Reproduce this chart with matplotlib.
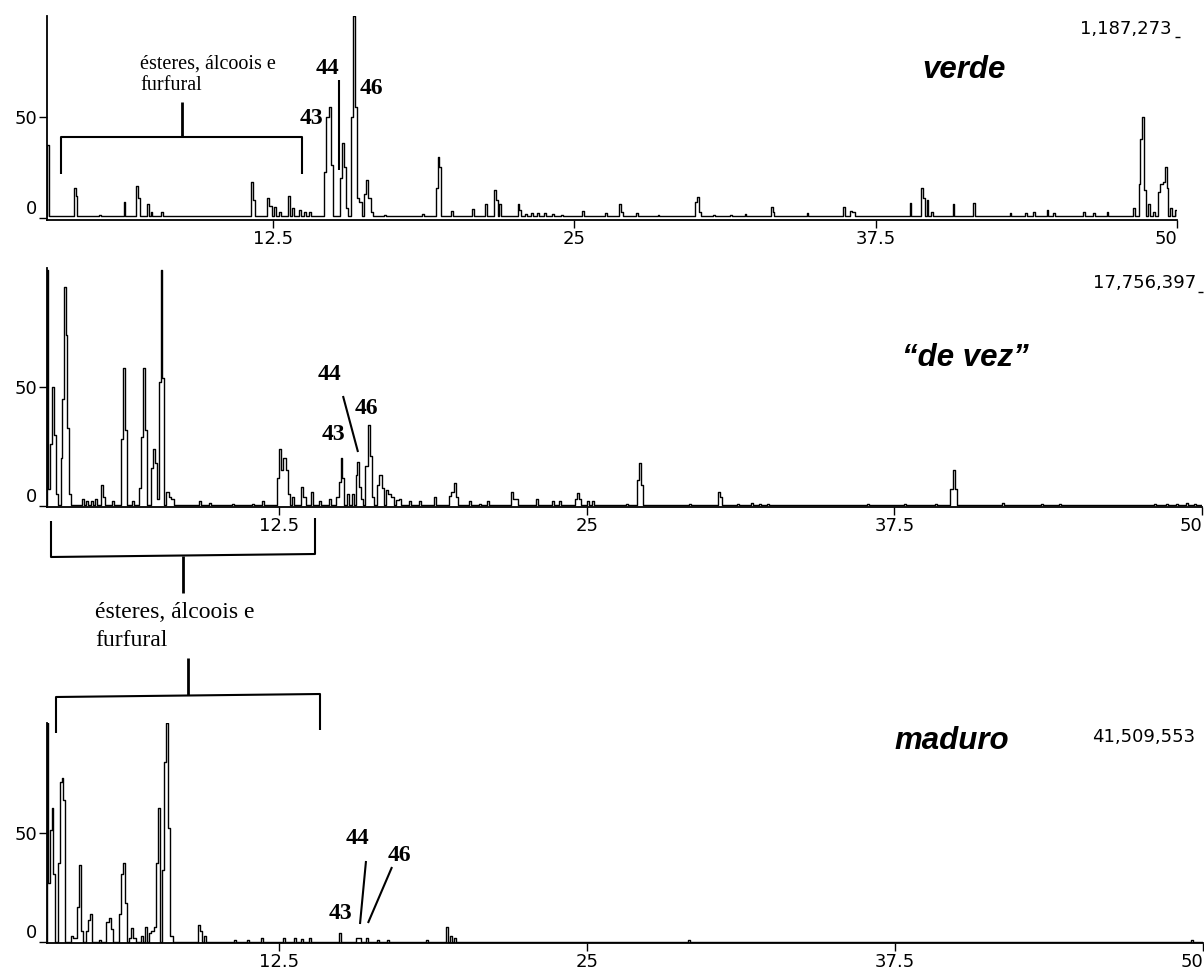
import matplotlib
matplotlib.use("Agg")
import matplotlib.pyplot as plt
from matplotlib.lines import Line2D

# ---------------- data (retention time in min, relative abundance %) ----------------
verde_rt = [3.16, 4.28, 4.36, 5.32, 6.35, 6.85, 6.94, 7.31, 7.47, 7.89,
            11.63, 11.71, 12.29, 12.42, 12.58, 12.79, 13.16, 13.33, 13.62, 13.83, 14.04,
            14.66, 14.78, 14.87, 14.95, 15.32, 15.41, 15.49, 15.57,
            15.78, 15.86, 15.95, 16.03, 16.15, 16.32, 16.40, 16.49, 16.61, 17.15,
            18.73, 19.30, 19.36, 19.43, 19.92, 20.79, 21.35, 21.72, 21.79, 21.93,
            22.69, 22.76, 23.00, 23.24, 23.50, 23.80, 24.13, 24.49, 25.35, 26.33,
            26.88, 26.98, 27.60, 28.50, 30.03, 30.12, 30.23, 30.80, 31.50, 32.10,
            33.21, 33.27, 34.68, 36.18, 36.46, 36.59, 38.95, 39.40, 39.50, 39.65, 39.85,
            40.73, 41.58, 43.10, 43.73, 44.06, 44.63, 44.90, 46.15, 46.57, 47.12,
            48.21, 48.44, 48.51, 48.58, 48.67, 48.85, 49.06,
            49.26, 49.36, 49.47, 49.54, 49.61, 49.75, 49.96]
verde_pct = [36, 15, 11, 1.5, 8, 16, 10, 7, 3, 3,
             18, 9, 10, 6, 5.5, 3, 11, 5, 4, 3, 3,
             23, 50, 55, 26, 20, 37, 25, 5,
             50, 100, 55, 10, 8, 12, 19, 10, 3, 1.5,
             2, 15, 30, 25, 3.5, 4.5, 7, 14, 9, 7,
             7, 4, 2, 2.5, 2.5, 2.5, 2, 1.5, 3.5, 2.5,
             7, 3, 2.5, 1.5, 8, 10.5, 3, 1.5, 1.5, 2,
             5.5, 3, 2.5, 5.5, 3.5, 3, 7.4, 15, 10, 9, 3,
             7, 7.4, 2.5, 2.5, 3, 4, 2.5, 3, 2.5, 3,
             5, 17, 39, 50, 14, 7, 3,
             13, 17, 18, 25, 15, 5, 4]

devez_rt = [3.08, 3.13, 3.25, 3.29, 3.37, 3.46, 3.66, 3.70, 3.78, 3.86, 3.90, 3.98,
            4.51, 4.67, 4.88, 5.04, 5.28, 5.37, 5.73, 6.10, 6.18, 6.26, 6.54, 6.82,
            6.94, 6.99, 7.07, 7.32, 7.40, 7.48, 7.60, 7.64, 7.72, 7.76, 7.93, 8.05, 8.17,
            9.27, 9.67, 10.61, 11.42, 11.83, 12.44, 12.52, 12.60, 12.72, 12.80, 12.89,
            13.05, 13.41, 13.54, 13.82, 14.15, 14.55, 14.84, 14.96, 15.04, 15.08,
            15.28, 15.49, 15.65, 15.69, 15.77, 15.85, 16.02, 16.14, 16.22, 16.30,
            16.50, 16.59, 16.71, 16.87, 16.99, 17.11, 17.28, 17.40, 17.80, 18.21,
            18.82, 19.43, 19.55, 19.63, 19.72, 20.24, 20.65, 20.98, 21.95, 22.03,
            22.16, 22.97, 23.62, 23.91, 24.55, 24.63, 24.72, 25.05, 25.24, 26.63,
            27.08, 27.12, 27.24, 29.19, 30.37, 30.45, 31.14, 31.71, 32.03, 32.36,
            36.42, 37.93, 39.19, 39.80, 39.92, 40.00, 41.91, 43.50, 44.23,
            48.09, 48.58, 48.99, 49.39, 49.72]
devez_pct = [99, 7, 26, 50, 30, 5, 20, 45, 92, 72, 33, 5,
             3, 2, 2, 3, 9, 4, 2, 28, 58, 32, 2, 7.5,
             29, 58, 32, 16, 24, 18, 3, 52, 99, 54, 6, 4, 3,
             2, 1.5, 1, 1, 2, 12, 24, 15, 20, 15, 5,
             4, 8, 4, 6, 2, 3, 4, 10, 20, 12,
             5, 5, 13, 18.5, 8, 3, 17, 34, 21, 4,
             9, 13, 7.5, 6.7, 5, 4, 2.5, 3, 2, 2,
             3.8, 4.2, 6, 9.7, 4, 2, 1, 2, 6, 3,
             3, 3, 2, 2, 3, 5.3, 3, 2, 2, 1,
             11, 18, 9, 1, 6, 4, 1, 1.5, 1, 1,
             1, 1, 1, 7, 15, 7, 1.5, 1, 1,
             1, 1, 1, 1.5, 1]

maduro_rt = [3.10, 3.15, 3.23, 3.31, 3.35, 3.55, 3.63, 3.71, 3.75, 4.08, 4.21,
             4.33, 4.41, 4.49, 4.70, 4.74, 4.86, 5.22, 5.51, 5.63, 5.71,
             6.03, 6.15, 6.20, 6.28, 6.44, 6.52, 6.64, 6.93, 7.09, 7.25, 7.37, 7.45,
             7.54, 7.62, 7.78, 7.86, 7.94, 8.02, 8.14, 9.24, 9.32, 9.48,
             10.70, 11.23, 11.80, 12.69, 13.14, 13.42, 13.74, 14.96, 15.65, 15.77,
             16.06, 16.50, 16.91, 18.49, 19.30, 19.47, 19.63, 29.12, 49.54]
maduro_pct = [100, 27, 51, 61, 31, 36, 73, 75, 65, 3, 2,
              16, 35, 5, 5, 10, 13, 1, 9, 11, 6,
              13, 31, 36, 18, 2, 6.5, 2, 3, 7, 4, 5, 7,
              36, 61, 33, 82, 100, 52, 3, 8, 5, 3,
              1, 1, 2, 2, 2, 1.5, 2, 4, 2, 2,
              2, 1, 1, 1, 7, 3, 2, 1, 1]

sample_names = ["verde", "\u201cde vez\u201d", "maduro"]
max_abundance = ["1,187,273", "17,756,397", "41,509,553"]
x_ticks = [12.5, 25, 37.5, 50]
x_ticklabels = ["12.5", "25", "37.5", "50"]
y_ticks = [0, 50]
y_ticklabels = ["0", "50"]
group_label = ["ésteres, álcoois e", "furfural"]
peak_ids = ["43", "44", "46"]

# ---------------- figure ----------------
W, H = 1204, 972
fig = plt.figure(figsize=(W / 100, H / 100), dpi=100)


def fx(x):
    return x / W


def fy(y):
    return 1 - y / H


def fline(pts, lw=1.5):
    fig.add_artist(Line2D([fx(p[0]) for p in pts], [fy(p[1]) for p in pts],
                          color="black", lw=lw, transform=fig.transFigure,
                          solid_capstyle="butt"))


def build_trace(rt, pct, base, x0, x1, hw=0.07):
    """Vertices of the detector trace: each listed peak rises from the baseline;
    peaks closer than 2*hw are joined directly (stepped, like the data system plot)."""
    join = 2 * hw
    pairs = sorted(zip(rt, pct))
    xs, ys = [x0 - 1], [base]
    prev = None
    for t, h in pairs:
        if prev is None or t - prev > join:
            if prev is not None:
                xs.append(prev + hw)
                ys.append(base)
            xs.append(t - hw)
            ys.append(base)
        xs.append(t)
        ys.append(h)
        prev = t
    xs += [prev + hw, x1 + 1]
    ys += [base, base]
    return xs, ys


panels = [
    dict(rt=verde_rt, pct=verde_pct, box=(47, 16, 1177, 220), ylim=(-1, 100), xlim=(3.13, 50.0), base=1.0),
    dict(rt=devez_rt, pct=devez_pct, box=(47, 268, 1202, 507.5), ylim=(-0.6, 100), xlim=(3.05, 50.0), base=0.6),
    dict(rt=maduro_rt, pct=maduro_pct, box=(47, 723, 1203, 943), ylim=(-0.4, 100), xlim=(3.07, 50.0), base=0.0),
]

tick_font = dict(family="DejaVu Sans", size=13)

for p in panels:
    l, t, r, b = p["box"]
    ax = fig.add_axes([fx(l), fy(b), (r - l) / W, (b - t) / H])
    xs, ys = build_trace(p["rt"], p["pct"], p["base"], *p["xlim"])
    ax.plot(xs, ys, color="black", lw=1.0, drawstyle="steps-mid")
    ax.set_xlim(*p["xlim"])
    ax.set_ylim(*p["ylim"])
    for s in ["top", "right"]:
        ax.spines[s].set_visible(False)
    for s in ["left", "bottom"]:
        ax.spines[s].set_linewidth(1.3)
        ax.spines[s].set_color("black")
    ax.set_xticks(x_ticks, labels=x_ticklabels)
    ax.set_yticks(y_ticks, labels=y_ticklabels)
    ax.tick_params(direction="out", length=5.5, width=1.0, pad=1.5, colors="black")
    for lbl in ax.get_xticklabels() + ax.get_yticklabels():
        lbl.set_fontfamily(tick_font["family"])
        lbl.set_fontsize(tick_font["size"])
    ax.get_yticklabels()[0].set_verticalalignment("bottom")
    ax.get_xticklabels()[-1].set_horizontalalignment("right")
    ax.patch.set_alpha(0)

# sample names and max abundance
title_font = dict(family="Liberation Sans", fontsize=22.5, fontweight="bold", fontstyle="italic")
for name, (x, y) in zip(sample_names, [(964, 70), (965, 358), (952, 741)]):
    fig.text(fx(x), fy(y), name, ha="center", va="center", **title_font)
for val, (x, y) in zip(max_abundance, [(1126, 29), (1145, 283), (1144, 737)]):
    fig.text(fx(x), fy(y), val, ha="center", va="center", family="DejaVu Sans", fontsize=13)
fline([(1175, 37), (1180, 37)], lw=1)
fline([(1198, 292), (1203, 292)], lw=1)

# compound-group brackets
fline([(61, 174), (61, 137), (302, 137), (302, 174)])
fline([(182, 102), (182, 137)], lw=2)
fig.text(fx(140), fy(64), group_label[0], ha="left", va="center", family="Liberation Serif", fontsize=14.5)
fig.text(fx(140), fy(85), group_label[1], ha="left", va="center", family="Liberation Serif", fontsize=14.5)

fline([(51, 521), (51, 557), (315, 554), (315, 518)])
fline([(183, 556), (183, 593)], lw=2)
fig.text(fx(95), fy(613), group_label[0], ha="left", va="center", family="Liberation Serif", fontsize=17)
fig.text(fx(95), fy(640), group_label[1], ha="left", va="center", family="Liberation Serif", fontsize=17)

fline([(56, 733), (56, 697), (320, 694), (320, 730)])
fline([(188, 658), (188, 695)], lw=2)

# peak numbers
peak_font = dict(family="Liberation Serif", fontsize=17, fontweight="bold", ha="center", va="center")
label_pos = [
    [(311, 118), (328, 68), (371, 88)],
    [(333, 435), (330, 374), (366, 408)],
    [(340, 913), (357, 838), (399, 855)],
]
for positions in label_pos:
    for pid, (x, y) in zip(peak_ids, positions):
        fig.text(fx(x), fy(y), pid, **peak_font)
fline([(339, 80), (339, 170)], lw=1.5)
fline([(343, 396), (358, 452)], lw=1.5)
fline([(366, 861), (360, 924)], lw=1.5)
fline([(392, 867), (368, 923)], lw=1.5)

fig.savefig("out.png", dpi=100)
